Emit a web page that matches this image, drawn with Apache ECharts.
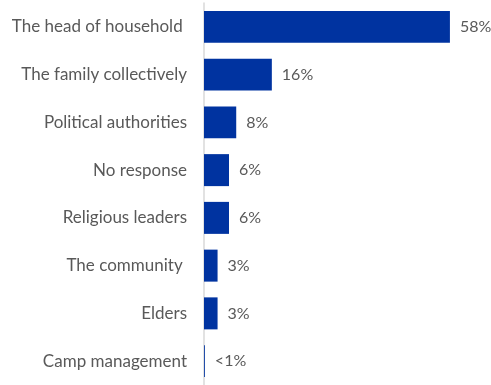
<!DOCTYPE html>
<html>
<head>
<meta charset="utf-8">
<script src="https://cdn.jsdelivr.net/npm/echarts@6/dist/echarts.min.js"></script>
<style>html,body{margin:0;padding:0;background:#fff;}#c{width:491px;height:385px;}</style>
</head>
<body>
<div id="c"></div>
<script>
const categories = ['The head of household ', 'The family collectively', 'Political authorities', 'No response', 'Religious leaders', 'The community ', 'Elders', 'Camp management'];
const values = [58, 16, 7.6, 5.9, 5.9, 3.2, 3.2, 0.2];
const valueLabels = ['58%', '16%', '8%', '6%', '6%', '3%', '3%', '<1%'];

const chart = echarts.init(document.getElementById('c'));
chart.setOption({
  animation: false,
  grid: { left: 204, top: 3, width: 254.4, height: 384, containLabel: false },
  xAxis: { type: 'value', min: 0, max: 60, show: false },
  yAxis: {
    type: 'category', inverse: true, data: categories,
    axisLine: { show: true, lineStyle: { color: '#d9d9d9', width: 1.5 } },
    axisTick: { show: false },
    axisLabel: { color: '#595959', fontFamily: 'Lato', fontSize: 17, margin: 17 }
  },
  series: [{
    type: 'bar', data: values, barCategoryGap: '33%',
    itemStyle: { color: '#0033A0' },
    label: {
      show: true, position: 'right', distance: 10,
      color: '#595959', fontFamily: 'Lato', fontSize: 16,
      formatter: p => valueLabels[p.dataIndex]
    }
  }]
});
</script>
</body>
</html>
